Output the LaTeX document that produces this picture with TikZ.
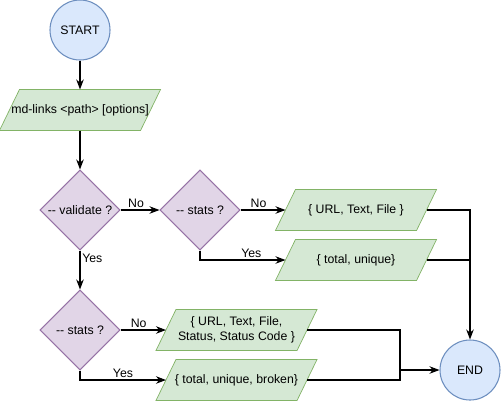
\documentclass[tikz,border=0pt]{standalone}
\usepackage{fontspec}
\setmainfont{Liberation Sans}
\usepackage{tikz}
\usetikzlibrary{arrows.meta,positioning,calc,backgrounds,shapes.geometric}
\definecolor{termFill}{HTML}{DAE8FC}
\definecolor{termLine}{HTML}{6C8EBF}
\definecolor{ioFill}{HTML}{D5E8D4}
\definecolor{ioLine}{HTML}{82B366}
\definecolor{askFill}{HTML}{E1D5E7}
\definecolor{askLine}{HTML}{9673A6}

\begin{document}
\begin{tikzpicture}[font=\fontsize{7}{8.6}\selectfont,>=Stealth,line width=0.6pt,
  term/.style={circle,draw=termLine,fill=termFill,minimum size=1.2cm,inner sep=0pt},
  io/.style={rectangle,minimum width=3.2cm,minimum height=0.8cm,inner sep=0pt,align=center},
  ask/.style={diamond,draw=askLine,fill=askFill,minimum size=1.6cm,inner sep=0pt},
  tag/.style={inner sep=1pt}]
\useasboundingbox (0,0) rectangle (10.04,-8.04);
% start and command
\node[term] (start) at (1.6,-0.6) {START};
\node[io] (cmd) at (1.6,-2.2) {md-links <path> [options]};
% decisions
\node[ask] (validate) at (1.6,-4.2) {-{}- validate ?};
\node[ask] (stats) at (4.0,-4.2) {-{}- stats ?};
\node[ask] (vstats) at (1.6,-6.6) {-{}- stats ?};
% outputs
\node[io] (plain) at (7.12,-4.2) {\{ URL, Text, File \}};
\node[io] (count) at (7.12,-5.2) {\{ total, unique\}};
\node[io] (full) at (4.73,-6.6) {\{ URL, Text, File,\\ Status, Status Code \}};
\node[io] (broken) at (4.73,-7.6) {\{ total, unique, broken\}};
\node[term] (end) at (9.4,-7.4) {END};
\coordinate (join) at (8.0,-7.4);
% slanted boxes behind the output texts
\begin{scope}[on background layer]
\foreach \n in {cmd,plain,count,full,broken}
  \draw[ioLine,fill=ioFill] (\n.south west) -- ([xshift=-0.4cm]\n.south east)
    -- (\n.north east) -- ([xshift=0.4cm]\n.north west) -- cycle;
\end{scope}
% connectors
\draw[->] (start) -- (cmd);
\draw[->] (cmd) -- (validate);
\draw[->] (validate) -- node[tag,above,pos=0.4] {No} (stats);
\draw[->] (stats) -- node[tag,above,pos=0.4] {No} ([xshift=0.2cm]plain.west);
\draw[->] (stats.south) |- node[tag,above,pos=0.8] {Yes} ([xshift=0.2cm]count.west);
\draw[->] (validate) -- node[tag,right,pos=0.2] {Yes} (vstats);
\draw[->] (vstats) -- node[tag,above,pos=0.4] {No} ([xshift=0.2cm]full.west);
\draw[->] (vstats.south) |- node[tag,above,pos=0.75] {Yes} ([xshift=0.2cm]broken.west);
\draw[->] ([xshift=-0.2cm]plain.east) -| (end.north);
\draw ([xshift=-0.2cm]count.east) -- (count.east -| end.north);
\draw ([xshift=-0.2cm]full.east) -| (join);
\draw ([xshift=-0.2cm]broken.east) -| (join);
\draw[->] (join) -- (end);
\end{tikzpicture}
\end{document}
